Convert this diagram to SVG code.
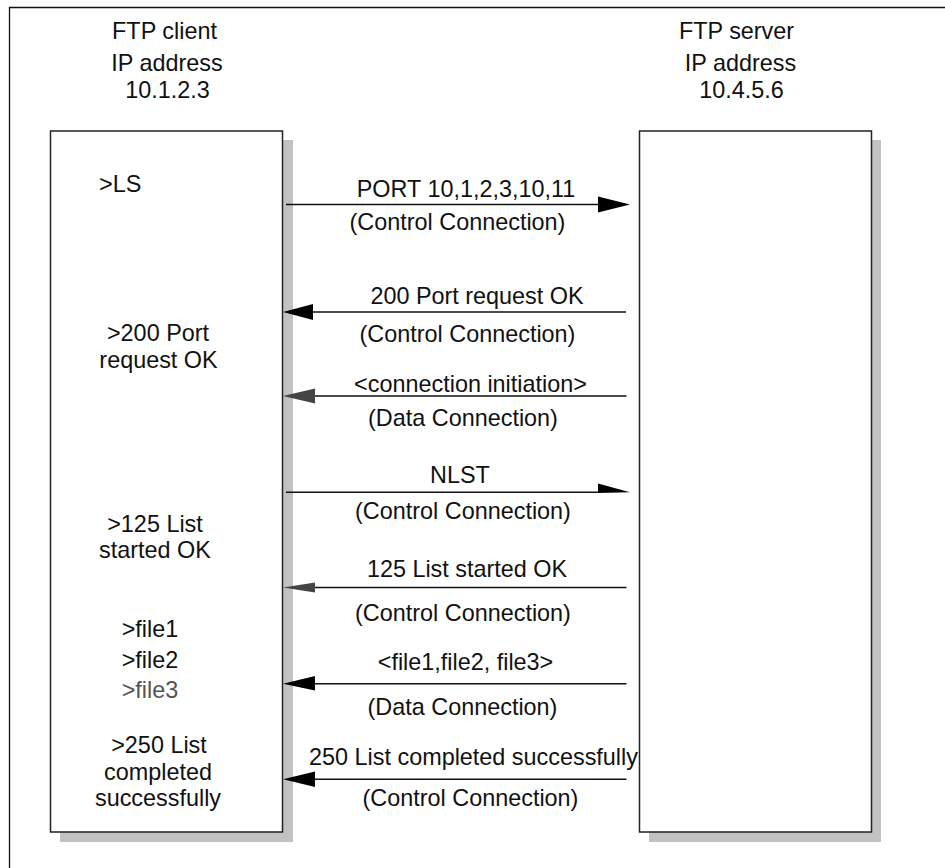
<svg xmlns="http://www.w3.org/2000/svg" width="945" height="868" viewBox="0 0 945 868">
<style>
text{font-family:"Liberation Sans",Arial,Helvetica,sans-serif;font-size:23.4px;fill:#111;text-anchor:middle}
.shadow{fill:#c2c2c2;stroke:none}
.box{fill:#fff;stroke:#222;stroke-width:1.5}
.ln{stroke:#111;stroke-width:1.4;fill:none}
.hd{fill:#000}
.hdg{fill:#454545}
.gray{fill:#555}
</style>
<rect width="945" height="868" fill="#fff"/>
<path d="M9.5,868 V7.5 H945" fill="none" stroke="#111" stroke-width="1.3"/>
<g id="client">
<text x="164.5" y="39">FTP client</text>
<text x="167" y="71">IP address</text>
<text x="167.5" y="98">10.1.2.3</text>
<rect class="shadow" x="60" y="140" width="233" height="702"/>
<rect class="box" x="50.5" y="131" width="232" height="701"/>
<text x="99" y="192" style="text-anchor:start">&gt;LS</text>
<text x="158" y="341">&gt;200 Port</text>
<text x="158.5" y="368">request OK</text>
<text x="155" y="532">&gt;125 List</text>
<text x="155" y="558">started OK</text>
<text x="150" y="637">&gt;file1</text>
<text x="150" y="668">&gt;file2</text>
<text x="150" y="698" class="gray">&gt;file3</text>
<text x="159" y="753">&gt;250 List</text>
<text x="158" y="780">completed</text>
<text x="158" y="806">successfully</text>
</g>
<g id="server">
<text x="736.5" y="39">FTP server</text>
<text x="740.5" y="71">IP address</text>
<text x="741.5" y="98">10.4.5.6</text>
<rect class="shadow" x="649" y="140" width="232" height="702"/>
<rect class="box" x="639.5" y="131" width="232" height="701"/>
</g>
<g id="connectors">
<line class="ln" x1="286" y1="204.5" x2="600" y2="204.5"/>
<polygon class="hd" points="598,196.5 630,204.5 598,212.5"/>
<text x="466" y="197">PORT 10,1,2,3,10,11</text>
<text x="457.5" y="230">(Control Connection)</text>

<line class="ln" x1="311" y1="312" x2="626" y2="312"/>
<polygon class="hd" points="283,312 313,304 313,320"/>
<text x="477" y="304">200 Port request OK</text>
<text x="467.5" y="342">(Control Connection)</text>

<line class="ln" x1="313" y1="396" x2="626.5" y2="396"/>
<polygon class="hdg" points="283,396 315,388.5 315,403.5"/>
<text x="470.5" y="392">&lt;connection initiation&gt;</text>
<text x="463" y="426">(Data Connection)</text>

<line class="ln" x1="286" y1="492.3" x2="600" y2="492.3"/>
<polygon class="hd" points="598,483.5 630,492.3 598,493"/>
<text x="460" y="483">NLST</text>
<text x="463" y="519">(Control Connection)</text>

<line class="ln" x1="313" y1="587.5" x2="626.5" y2="587.5"/>
<polygon class="hdg" points="283,587.5 315,582.5 315,592.5"/>
<text x="467" y="577">125 List started OK</text>
<text x="463" y="621">(Control Connection)</text>

<line class="ln" x1="313" y1="683.7" x2="626.5" y2="683.7"/>
<polygon class="hd" points="283,683.7 315,676 315,690.5"/>
<text x="465.5" y="670">&lt;file1,file2, file3&gt;</text>
<text x="462.5" y="715">(Data Connection)</text>

<line class="ln" x1="313" y1="779.3" x2="626.5" y2="779.3"/>
<polygon class="hd" points="283,779.3 315,771.5 315,787"/>
<text x="473.5" y="765">250 List completed successfully</text>
<text x="470.5" y="806">(Control Connection)</text>
</g>
</svg>
